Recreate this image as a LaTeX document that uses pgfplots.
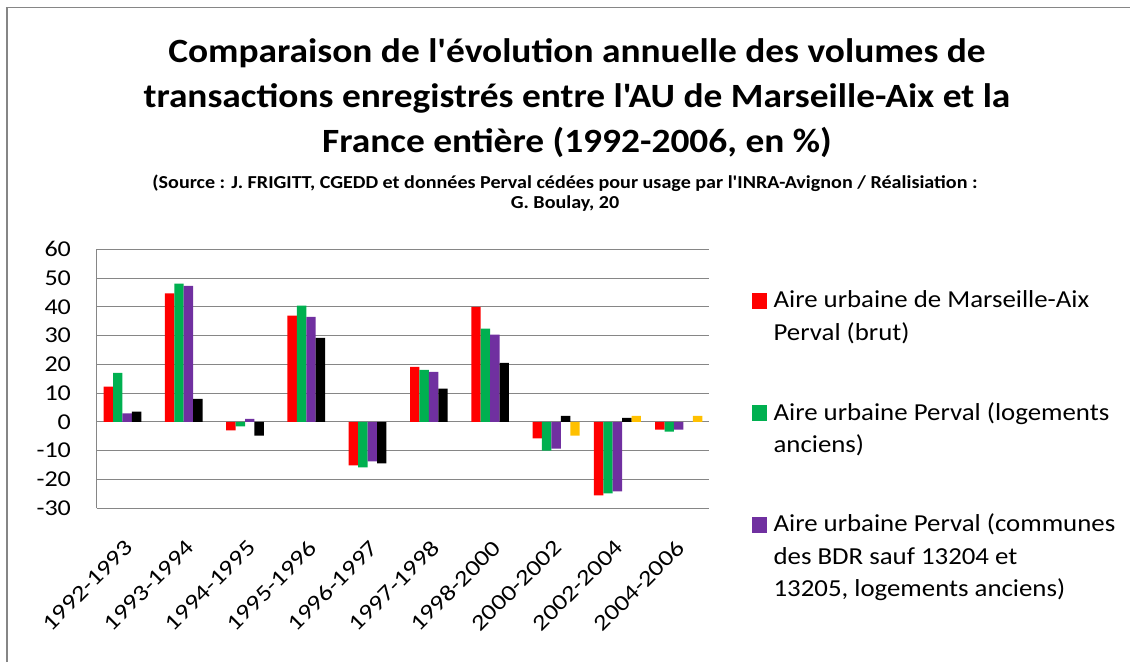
\documentclass[border=0pt]{standalone}
\usepackage{fontspec}
\setmainfont{Carlito}[Ligatures=TeXOff, FakeStretch=1.1]
\newfontfamily\wide{Carlito}[Ligatures=TeXOff, FakeStretch=1.15]
\newfontfamily\wider{Carlito}[Ligatures=TeXOff, FakeStretch=1.2]
\usepackage{pgfplots}
\pgfplotsset{compat=1.18}
\definecolor{cred}{HTML}{FF0000}
\definecolor{cgreen}{HTML}{00B050}
\definecolor{cpurple}{HTML}{7030A0}
\definecolor{cblack}{HTML}{000000}
\definecolor{cyellow}{HTML}{FFC000}
\definecolor{gridgray}{HTML}{868686}
\begin{document}
\begin{tikzpicture}
\useasboundingbox (0pt,0pt) rectangle (847.5pt,-496.5pt);
\draw[gridgray, line width=1.7pt] (5.25pt,-496.5pt) -- (5.25pt,-5.6pt);
\draw[gridgray, line width=0.75pt] (4.4pt,-5.6pt) -- (847.5pt,-5.6pt);
\node[font=\fontsize{25.5}{33}\selectfont\bfseries, anchor=base, inner sep=0pt] at (432.75pt,-46.5pt) {Comparaison de l'évolution annuelle des volumes de};
\node[font=\fontsize{25.5}{33}\selectfont\bfseries, anchor=base, inner sep=0pt] at (432.75pt,-80.25pt) {transactions enregistrés entre l'AU de Marseille-Aix et la};
\node[font=\fontsize{25.5}{33}\selectfont\bfseries, anchor=base, inner sep=0pt] at (432.75pt,-114pt) {France entière (1992-2006, en \%)};
\node[font=\fontsize{13.7}{15}\selectfont\bfseries, anchor=base, inner sep=0pt] at (423.75pt,-141pt) {(Source : J. FRIGITT, CGEDD et données Perval cédées pour usage par l'INRA-Avignon / Réalisiation :};
\node[font=\fontsize{13.7}{15}\selectfont\bfseries, anchor=base, inner sep=0pt] at (423.75pt,-156.5pt) {G. Boulay, 20};
\begin{axis}[
  at={(72.4pt,-381pt)}, anchor=south west,
  scale only axis, width=459.6pt, height=194pt,
  xmin=-0.5, xmax=9.5, ymin=-30, ymax=60,
  ytick={-30,-20,...,60},
  xtick={0,...,9},
  xticklabels={1992-1993,1993-1994,1994-1995,1995-1996,1996-1997,1997-1998,1998-2000,2000-2002,2002-2004,2004-2006},
  ybar=0pt, bar width=0.1538,
  axis y line*=left, axis x line*=bottom,
  axis line style={draw=gridgray, line width=0.75pt, -},
  ymajorgrids, grid style={draw=gridgray, line width=0.75pt},
  major tick length=0pt,
  /pgf/number format/assume math mode=true,
  yticklabel style={font=\wide\fontsize{17}{20}\selectfont, anchor=east, inner sep=0pt, xshift=-19pt},
  xticklabel style={font=\wider\fontsize{16.8}{20}\selectfont, inner sep=0pt, xshift=1.5pt, yshift=-27pt, rotate=45, anchor=east},
  every axis plot/.append style={draw=none},
  every axis plot post/.append style={legend image code/.code={\fill[##1] (0pt,-0.75pt) rectangle (11.25pt,11.25pt);}},
  legend style={at={(axis description cs:1.0697,0.874)}, anchor=north west, draw=none, fill=none, inner sep=0pt,
    font=\fontsize{18.3}{24.4}\selectfont, cells={anchor=base west, inner sep=0pt}, row sep=0pt,
    /tikz/every odd column/.append style={column sep=2.7pt}},
]
\addplot[fill=cred] coordinates {(0,12.2) (1,44.7) (2,-3.0) (3,36.9) (4,-15.2) (5,19.1) (6,40.0) (7,-5.8) (8,-25.6) (9,-2.7)};
\addlegendentry{\vtop{\hbox{\strut Aire urbaine de Marseille-Aix}\hbox{\strut Perval (brut)}}}
\addplot[fill=cgreen] coordinates {(0,17.0) (1,48.1) (2,-1.6) (3,40.4) (4,-15.9) (5,18.1) (6,32.4) (7,-10.0) (8,-24.9) (9,-3.4)};
\addlegendentry{\vtop{\hbox{\rule{0pt}{79.1pt}Aire urbaine Perval (logements}\hbox{\strut anciens)}}}
\addplot[fill=cpurple] coordinates {(0,2.9) (1,47.3) (2,1.0) (3,36.5) (4,-13.8) (5,17.4) (6,30.3) (7,-9.3) (8,-24.2) (9,-2.7)};
\addlegendentry{\vtop{\hbox{\rule{0pt}{78pt}Aire urbaine Perval (communes}\hbox{\strut des BDR sauf 13204 et}\hbox{\strut 13205, logements anciens)}}}
\addplot[fill=cblack] coordinates {(0,3.5) (1,8.0) (2,-4.8) (3,29.2) (4,-14.5) (5,11.5) (6,20.5) (7,2.1) (8,1.4)};
\addplot[fill=cyellow] coordinates {(7,-4.8) (8,2.1) (9,2.1)};
\end{axis}
\end{tikzpicture}
\end{document}
